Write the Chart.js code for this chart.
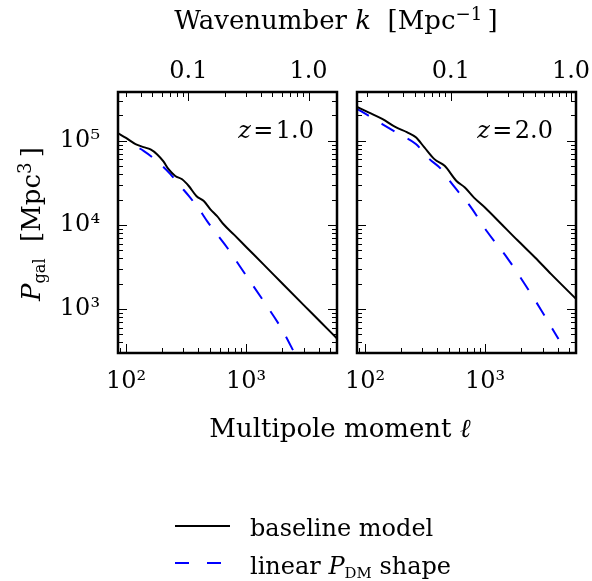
<!DOCTYPE html>
<html>
<head>
<meta charset="utf-8">
<script src="https://cdn.jsdelivr.net/npm/chart.js@4"></script>
<style>
  body { margin: 0; background: #fff; width: 592px; height: 581px; position: relative; overflow: hidden;
         font-family: 'DejaVu Serif', serif; color: #000; }
  canvas { position: absolute; left: 0; top: 0; }
  .lbl { position: absolute; white-space: nowrap; font-size: 24px; line-height: 24px; }
  .big { font-size: 26px; line-height: 26px; }
  .lbl sup { font-size: 70%; vertical-align: 0.5em; line-height: 0; }
  .lbl sub { font-size: 62%; vertical-align: -0.3em; line-height: 0; }
</style>
</head>
<body>
<canvas id="panelZ1" width="592" height="581"></canvas>
<canvas id="panelZ2" width="592" height="581"></canvas>

<div class="lbl big" id="topTitle" style="left:336px; top:7px; transform:translateX(-50%);">Wavenumber <i>k</i>&nbsp; [Mpc<sup>−1</sup>&thinsp;]</div>
<div class="lbl big" id="bottomTitle" style="left:340px; top:415px; transform:translateX(-50%);">Multipole moment <i>ℓ</i></div>
<div class="lbl big" id="yTitle" style="left:31px; top:224px; transform:translate(-50%,-50%) rotate(-90deg);"><i>P</i><sub>gal</sub>&nbsp; [Mpc<sup>3</sup>&thinsp;]</div>
<div class="lbl" id="zLabel1" style="left:314px; top:118px; transform:translateX(-100%);"><i>z</i>&#8202;=&#8202;1.0</div>
<div class="lbl" id="zLabel2" style="left:553px; top:118px; transform:translateX(-100%);"><i>z</i>&#8202;=&#8202;2.0</div>

<svg style="position:absolute; left:0; top:0;" width="592" height="581">
  <line x1="175" y1="526" x2="230" y2="526" stroke="#000" stroke-width="2"/>
  <line x1="175" y1="563" x2="230" y2="563" stroke="#0000ff" stroke-width="2" stroke-dasharray="14 18"/>
</svg>
<div class="lbl" style="left:250px; top:516px;">baseline model</div>
<div class="lbl" style="left:250px; top:554px;">linear <i>P</i><sub>DM</sub> shape</div>

<script>
// multipole range shown on both panels, and comoving distances (Mpc) used for the k axis
const ellRange = [85.8, 5700];
const pRange = [300, 3.8e5];
const chiZ = [3303, 5180];

// z = 1.0 panel
const ellBaseZ1 = [85, 100, 120, 140, 160, 181, 205, 226, 257, 293, 333, 385, 444, 504, 573, 651, 800, 1000, 1400, 2000, 3000, 4200, 5700];
const pBaseZ1 = [1.24e5, 1.08e5, 9.14e4, 8.41e4, 7.89e4, 6.93e4, 5.68e4, 4.59e4, 3.82e4, 3.49e4, 2.90e4, 2.21e4, 1.92e4, 1.53e4, 1.27e4, 1.01e4, 7.55e3, 5.47e3, 3.37e3, 2.01e3, 1.12e3, 692, 446];
const ellDmZ1 = [100, 140, 193, 234, 283, 333, 416, 473, 573, 696, 986, 1403, 1995, 2570];
const pDmZ1 = [9.6e4, 7.6e4, 5.27e4, 4.01e4, 2.90e4, 2.21e4, 1.46e4, 1.11e4, 7.7e3, 5.35e3, 2.57e3, 1.23e3, 566, 285];

// z = 2.0 panel
const ellBaseZ2 = [84, 107, 139, 180, 225, 265, 312, 378, 460, 577, 678, 807, 1000, 1350, 1850, 2600, 3540, 5860];
const pBaseZ2 = [2.57e5, 2.18e5, 1.82e5, 1.45e5, 1.26e5, 1.10e5, 8.34e4, 6.05e4, 5.04e4, 3.33e4, 2.78e4, 2.11e4, 1.60e4, 1.04e4, 6.6e3, 4.1e3, 2.6e3, 1.27e3];
const ellDmZ2 = [84, 107, 139, 192, 265, 344, 431, 507, 656, 747, 1033, 1524, 2106, 2910, 4075];
const pDmZ2 = [2.44e5, 1.99e5, 1.58e5, 1.20e5, 9.14e4, 6.05e4, 4.60e4, 3.33e4, 2.11e4, 1.68e4, 8.4e3, 4.06e3, 2.04e3, 982, 439];

// tick labels
const ellTickVals = [100, 1000];
const ellTickLabels = ['10²', '10³'];
const kTickVals = [0.1, 1];
const kTickLabels = ['0.1', '1.0'];
const pTickVals = [1e3, 1e4, 1e5];
const pTickLabels = ['10³', '10⁴', '10⁵'];

const tickFont = { family: "'DejaVu Serif', serif", size: 24 };

function labelFor(v, vals, labels) {
  for (let i = 0; i < vals.length; i++) {
    if (Math.abs(Math.log10(v) - Math.log10(vals[i])) < 1e-6) return labels[i];
  }
  return '';
}

function logTicks(min, max) {
  const out = [];
  for (let e = Math.floor(Math.log10(min)); e <= Math.ceil(Math.log10(max)); e++) {
    for (let m = 1; m <= 9; m++) {
      const v = m * Math.pow(10, e);
      if (v >= min * 0.999999 && v <= max * 1.000001) out.push({ v: v, major: m === 1 });
    }
  }
  return out;
}

// inward tick marks on all four sides plus the black frame
const frameTicks = {
  id: 'frameTicks',
  afterDatasetsDraw(chart) {
    const ctx = chart.ctx;
    const a = chart.chartArea;
    const sx = chart.scales.x, sk = chart.scales.k, sy = chart.scales.y;
    ctx.save();
    ctx.strokeStyle = '#000';
    ctx.lineWidth = 1;
    logTicks(sx.min, sx.max).forEach(function (t) {
      const x = Math.round(sx.getPixelForValue(t.v)) + 0.5;
      const len = t.major ? 9 : 5;
      ctx.beginPath(); ctx.moveTo(x, a.bottom); ctx.lineTo(x, a.bottom - len); ctx.stroke();
    });
    logTicks(sk.min, sk.max).forEach(function (t) {
      const x = Math.round(sk.getPixelForValue(t.v)) + 0.5;
      const len = t.major ? 9 : 5;
      ctx.beginPath(); ctx.moveTo(x, a.top); ctx.lineTo(x, a.top + len); ctx.stroke();
    });
    logTicks(sy.min, sy.max).forEach(function (t) {
      const y = Math.round(sy.getPixelForValue(t.v)) + 0.5;
      const len = t.major ? 9 : 5;
      ctx.beginPath(); ctx.moveTo(a.left, y); ctx.lineTo(a.left + len, y); ctx.stroke();
      ctx.beginPath(); ctx.moveTo(a.right, y); ctx.lineTo(a.right - len, y); ctx.stroke();
    });
    ctx.lineWidth = 2.5;
    ctx.strokeRect(a.left, a.top, a.right - a.left, a.bottom - a.top);
    ctx.restore();
  }
};

function pts(xs, ys) {
  return xs.map(function (x, i) { return { x: x, y: ys[i] }; });
}

function makePanel(id, chi, ellBase, pBase, ellDm, pDm, showY, padLeft, padRight, dashOffset) {
  return new Chart(document.getElementById(id), {
    type: 'line',
    data: {
      datasets: [
        { label: 'baseline model', data: pts(ellBase, pBase), borderColor: '#000000', borderWidth: 2,
          pointRadius: 0, cubicInterpolationMode: 'monotone', xAxisID: 'x', yAxisID: 'y' },
        { label: 'linear P_DM shape', data: pts(ellDm, pDm), borderColor: '#0000ff', borderWidth: 2,
          borderDash: [15, 15], borderDashOffset: dashOffset, pointRadius: 0,
          cubicInterpolationMode: 'monotone', xAxisID: 'x', yAxisID: 'y' }
      ]
    },
    options: {
      responsive: false,
      animation: false,
      events: [],
      layout: { padding: { left: padLeft, right: padRight, top: 52, bottom: 188 } },
      plugins: { legend: { display: false }, tooltip: { enabled: false } },
      scales: {
        x: {
          type: 'logarithmic', position: 'bottom', min: ellRange[0], max: ellRange[1],
          grid: { display: false, drawTicks: false }, border: { display: false },
          afterFit: function (s) { s.height = 40; },
          ticks: { autoSkip: false, maxRotation: 0, padding: 14, font: tickFont, color: '#000',
                   callback: function (v) { return labelFor(v, ellTickVals, ellTickLabels); } }
        },
        k: {
          type: 'logarithmic', position: 'top', min: ellRange[0] / chi, max: ellRange[1] / chi,
          grid: { display: false, drawTicks: false }, border: { display: false },
          afterFit: function (s) { s.height = 40; },
          ticks: { autoSkip: false, maxRotation: 0, padding: 6, font: tickFont, color: '#000',
                   callback: function (v) { return labelFor(v, kTickVals, kTickLabels); } }
        },
        y: {
          type: 'logarithmic', position: 'left', min: pRange[0], max: pRange[1],
          grid: { display: false, drawTicks: false }, border: { display: false },
          afterFit: function (s) { s.width = 60; },
          ticks: { display: showY, autoSkip: false, padding: 18, font: tickFont, color: '#000',
                   callback: function (v) { return labelFor(v, pTickVals, pTickLabels); } }
        }
      }
    },
    plugins: [frameTicks]
  });
}

makePanel('panelZ1', chiZ[0], ellBaseZ1, pBaseZ1, ellDmZ1, pDmZ1, true, 58, 255, 15);
makePanel('panelZ2', chiZ[1], ellBaseZ2, pBaseZ2, ellDmZ2, pDmZ2, false, 297, 16, 0);
</script>
</body>
</html>
